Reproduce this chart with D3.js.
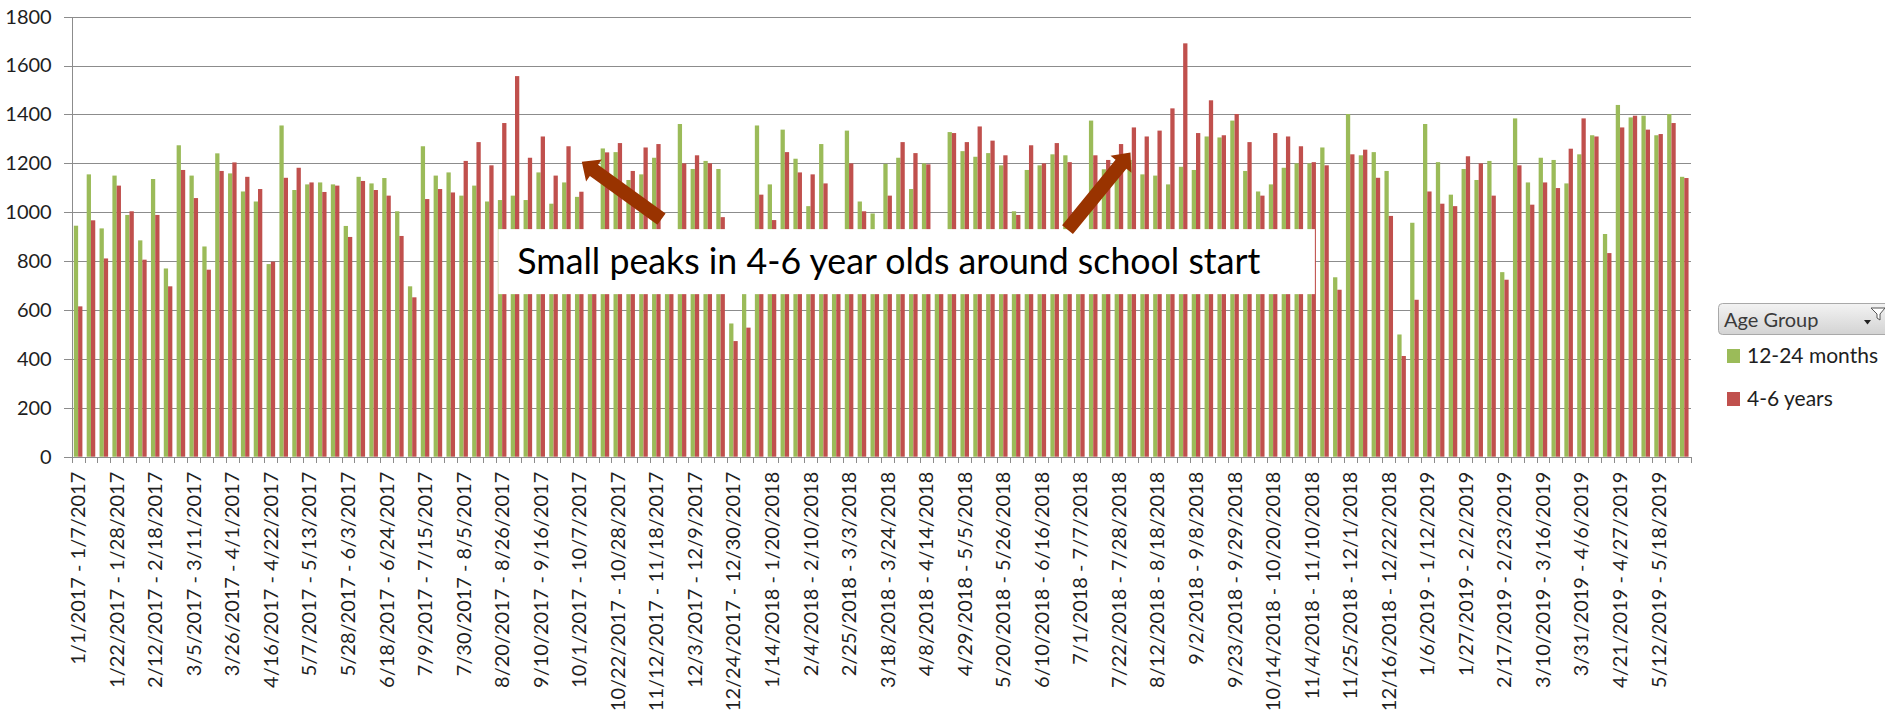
<!DOCTYPE html>
<html>
<head>
<meta charset="utf-8">
<script src="https://cdn.jsdelivr.net/npm/d3@7"></script>
<style>
    html, body { margin: 0; padding: 0; background: #fff; }
    svg { display: block; font-family: Lato, "Open Sans", sans-serif; }
    .grid line { stroke: #8c8c8c; shape-rendering: crispEdges; }
    .grid path { display: none; }
    .axis { font-family: Lato, "Open Sans", sans-serif; }
    .axis path, .axis line { stroke: #8c8c8c; shape-rendering: crispEdges; }
    .axis text { fill: #1e1e1e; font-size: 20px; }
</style>
</head>
<body>
<script>

// weeks, Sunday to Saturday, 1/1/2017 .. 5/26/2019
var weekStarts = d3.timeWeek.range(new Date(2017, 0, 1), new Date(2019, 4, 27));

var seriesNames = ["12-24 months", "4-6 years"];
var seriesColors = ["#9bbb59", "#c0504d"];

// weekly counts, 12-24 months
var toddlers = [
    945, 1155, 934, 1150, 989, 885, 1136, 770, 1274, 1150, 860, 1241, 1159, 1085, 1044, 788, 1355, 1091,
    1114, 1122, 1114, 944, 1145, 1118, 1140, 1004, 697, 1270, 1150, 1163, 1068, 1109, 1044, 1050, 1068, 1050,
    1163, 1035, 1122, 1063, 910, 1261, 1246, 1132, 1155, 1223, 900, 1361, 1177, 1210, 1177, 545, 800, 1355,
    1114, 1338, 1219, 1025, 1279, 900, 1334, 1044, 995, 1198, 1223, 1095, 1200, 890, 1328, 1250, 1227, 1242,
    1192, 1004, 1173, 1192, 1237, 1233, 900, 1375, 1176, 1200, 1214, 1155, 1150, 1114, 1186, 1173, 1310, 1306,
    1375, 1169, 1085, 1114, 1182, 1200, 1200, 1265, 734, 1402, 1233, 1246, 1169, 500, 957, 1361, 1205, 1072,
    1177, 1132, 1210, 755, 1384, 1122, 1223, 1214, 1118, 1237, 1315, 911, 1439, 1388, 1395, 1315, 1402, 1145
];

// weekly counts, 4-6 years
var kids = [
    615, 967, 811, 1109, 1004, 806, 989, 697, 1173, 1058, 765, 1169, 1204, 1145, 1095, 798, 1141, 1182,
    1122, 1083, 1109, 899, 1128, 1091, 1068, 903, 652, 1054, 1095, 1081, 1210, 1287, 1192, 1365, 1557, 1223,
    1310, 1150, 1270, 1084, 880, 1245, 1283, 1169, 1265, 1279, 870, 1200, 1233, 1200, 980, 473, 528, 1072,
    968, 1246, 1163, 1155, 1118, 880, 1200, 1004, 920, 1068, 1287, 1242, 1196, 870, 1324, 1287, 1351, 1293,
    1233, 989, 1274, 1200, 1283, 1205, 880, 1233, 1214, 1279, 1347, 1310, 1334, 1425, 1691, 1324, 1458, 1315,
    1402, 1287, 1068, 1324, 1310, 1270, 1205, 1192, 683, 1237, 1256, 1141, 985, 412, 642, 1085, 1035, 1025,
    1229, 1200, 1068, 724, 1192, 1031, 1122, 1099, 1260, 1384, 1310, 833, 1347, 1395, 1338, 1320, 1365, 1140
];

var yTicks = [0, 200, 400, 600, 800, 1000, 1200, 1400, 1600, 1800];

// annotation: category index (fractional) and value
var noteText = "Small peaks in 4-6 year olds around school start";
var noteBox = {i0: 33.2, i1: 96.75, v0: 931, v1: 665};
var arrows = [
    {from: [45.9, 972], to: [39.7, 1207]},
    {from: [77.5, 929], to: [82.4, 1244]}
];


var width = 1885
    , height = 721
    , plotLeft = 71.7
    , plotRight = 1690.7
    , plotTop = 16.7
    , plotBottom = 456.7
    , fmt = d3.timeFormat("%-m/%-d/%Y")
    ;

var categories = weekStarts.map(function(d) {
    return fmt(d) + " - " + fmt(d3.timeDay.offset(d, 6));
});

var rows = categories.map(function(c, i) {
    return {cat: c, values: [toddlers[i], kids[i]]};
});

var svg = d3.select("body")
    .append("svg")
    .attr("width", width)
    .attr("height", height);

var x = d3.scaleBand()
    .domain(categories)
    .range([plotLeft, plotRight])
    .padding(0);

var xi = d3.scaleLinear()
    .domain([0, categories.length])
    .range([plotLeft, plotRight]);

var xs = d3.scaleBand()
    .domain([0, 1])
    .range([0, x.bandwidth()])
    .paddingInner(0)
    .paddingOuter(0.5);

var y = d3.scaleLinear()
    .domain([0, 1800])
    .range([plotBottom, plotTop]);

// gridlines
svg.append("g")
    .attr("class", "grid")
    .attr("transform", "translate(" + plotLeft + ",0)")
    .call(d3.axisLeft(y)
        .tickValues(yTicks.slice(1))
        .tickSizeInner(-(plotRight - plotLeft))
        .tickSizeOuter(0)
        .tickFormat(""));

// y axis
svg.append("g")
    .attr("class", "axis axis--y")
    .attr("transform", "translate(" + plotLeft + ",0)")
    .call(d3.axisLeft(y)
        .tickValues(yTicks)
        .tickSizeInner(8)
        .tickSizeOuter(0)
        .tickPadding(12)
        .tickFormat(d3.format("d")));

// bars
var groups = svg.append("g")
    .selectAll("g")
    .data(rows)
    .enter().append("g")
    .attr("transform", function(d) { return "translate(" + x(d.cat) + ",0)"; });

groups.selectAll("rect")
    .data(function(d) { return d.values; })
    .enter().append("rect")
    .attr("x", function(d, i) { return xs(i); })
    .attr("width", xs.bandwidth())
    .attr("y", function(d) { return y(d); })
    .attr("height", function(d) { return plotBottom - y(d); })
    .attr("fill", function(d, i) { return seriesColors[i]; });

// x axis: tick marks between categories
svg.append("g")
    .attr("class", "axis axis--x")
    .attr("transform", "translate(0," + plotBottom + ")")
    .call(d3.axisBottom(xi)
        .tickValues(d3.range(0, categories.length + 1))
        .tickSizeInner(6)
        .tickSizeOuter(0)
        .tickFormat(""));

// x axis labels, every third week
var xLabels = svg.append("g")
    .attr("class", "axis axis--labels")
    .attr("transform", "translate(0," + plotBottom + ")")
    .call(d3.axisBottom(x)
        .tickValues(categories.filter(function(d, i) { return i % 3 === 0; }))
        .tickSize(0));

xLabels.select(".domain").remove();
xLabels.selectAll("text")
    .attr("transform", "rotate(-90)")
    .attr("x", -15)
    .attr("y", 0)
    .attr("dy", "0.35em")
    .style("text-anchor", "end");

// annotation box
var bx0 = xi(noteBox.i0), bx1 = xi(noteBox.i1)
    , by0 = y(noteBox.v0), by1 = y(noteBox.v1);

var note = svg.append("g").attr("class", "g-annotation");

note.append("rect")
    .attr("x", bx0)
    .attr("y", by0)
    .attr("width", bx1 - bx0)
    .attr("height", by1 - by0)
    .attr("fill", "#fff");

var noteLabel = note.append("text")
    .attr("x", bx0 + 19)
    .attr("y", by0 + 45)
    .attr("fill", "#000")
    .style("font-size", "36px")
    .text(noteText);

// fit the sentence to the width it has in the picture
var tl = noteLabel.node().getComputedTextLength();
noteLabel.style("font-size", (36 * 743 / tl) + "px");

// block arrows
arrows.forEach(function(a) {
    var tx = xi(a.from[0]), ty = y(a.from[1])
        , px = xi(a.to[0]), py = y(a.to[1])
        , len = Math.sqrt((px - tx) * (px - tx) + (py - ty) * (py - ty))
        , ux = (px - tx) / len, uy = (py - ty) / len
        , nx = -uy, ny = ux
        , sw = 7, hw = 13.5, hl = 15
        , bxp = px - ux * hl, byp = py - uy * hl;

    var pts = [
        [tx + nx * sw, ty + ny * sw],
        [bxp + nx * sw, byp + ny * sw],
        [bxp + nx * hw, byp + ny * hw],
        [px, py],
        [bxp - nx * hw, byp - ny * hw],
        [bxp - nx * sw, byp - ny * sw],
        [tx - nx * sw, ty - ny * sw]
    ];

    note.append("path")
        .attr("d", "M" + pts.join("L") + "Z")
        .attr("fill", "#993300");
});

// legend
var defs = svg.append("defs");
var grad = defs.append("linearGradient")
    .attr("id", "btn")
    .attr("x1", 0).attr("x2", 0).attr("y1", 0).attr("y2", 1);
grad.append("stop").attr("offset", "0%").attr("stop-color", "#f3f3f3");
grad.append("stop").attr("offset", "100%").attr("stop-color", "#d3d3d3");

var legend = svg.append("g").attr("class", "legend");

legend.append("rect")
    .attr("x", 1718.5)
    .attr("y", 303.5)
    .attr("width", 190)
    .attr("height", 31)
    .attr("rx", 4)
    .attr("fill", "url(#btn)")
    .attr("stroke", "#a9a9a9");

legend.append("text")
    .attr("x", 1724)
    .attr("y", 327)
    .attr("fill", "#3a3a3a")
    .style("font-size", "20px")
    .text("Age Group");

// filter glyph
legend.append("path")
    .attr("d", "M1864,320 L1871,320 L1867.5,324.5 Z")
    .attr("fill", "#222");
legend.append("path")
    .attr("d", "M1871,308 L1885,308 L1880,314 L1880,320 L1877,318 L1877,314 Z")
    .attr("fill", "#fff")
    .attr("stroke", "#555")
    .attr("stroke-width", 1);

var items = legend.selectAll("g.item")
    .data(seriesNames)
    .enter().append("g")
    .attr("class", "item")
    .attr("transform", function(d, i) { return "translate(1727," + (349 + i * 43) + ")"; });

items.append("rect")
    .attr("width", 13)
    .attr("height", 14)
    .attr("fill", function(d, i) { return seriesColors[i]; });

items.append("text")
    .attr("x", 20)
    .attr("y", 14)
    .attr("fill", "#1e1e1e")
    .style("font-size", "21px")
    .text(function(d) { return d; });

</script>
</body>
</html>
